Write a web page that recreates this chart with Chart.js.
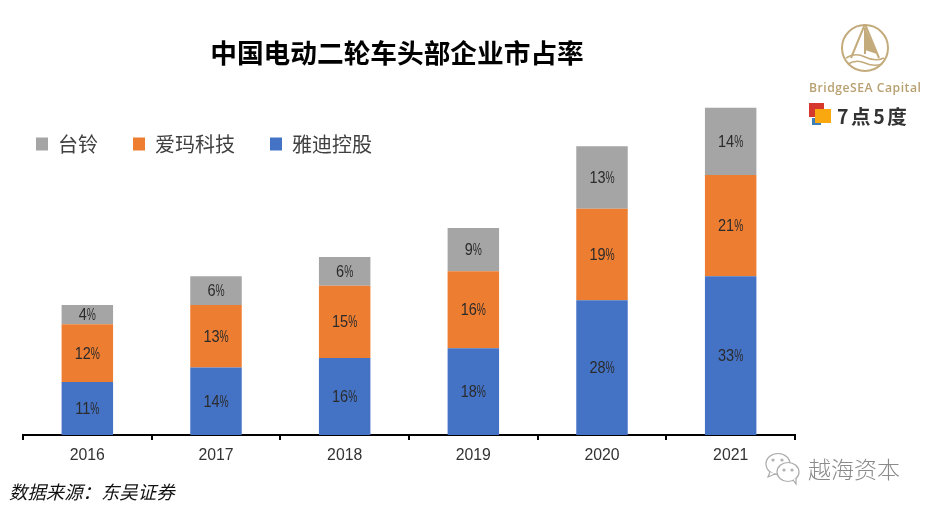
<!DOCTYPE html>
<html>
<head>
<meta charset="utf-8">
<title>中国电动二轮车头部企业市占率</title>
<script src="https://cdn.jsdelivr.net/npm/chart.js@4/dist/chart.umd.min.js"></script>
<style>
  html, body { margin: 0; padding: 0; background: #fff; }
  #wrap { position: relative; width: 930px; height: 510px; overflow: hidden; }
  #wrap canvas { position: absolute; left: 0; top: 0; }
  .abs { position: absolute; white-space: nowrap; font-family: "Noto Sans CJK SC", sans-serif; }
  #source { left: 9px; top: 478px; font-size: 18.4px; line-height: 26px; font-style: italic; color: #111; }
  #brand { left: 809px; top: 80px; font-family: "Open Sans", sans-serif; font-size: 12.2px; line-height: 16px; font-weight: 600; color: #b9a071; letter-spacing: .5px; }
  #seven { left: 837px; top: 102px; font-size: 19.5px; line-height: 28px; font-weight: 700; color: #333; letter-spacing: 2.6px; }
  #mark { left: 808px; top: 452px; font-size: 23px; line-height: 32px; color: #8a8a8a; font-weight: 300; }
</style>
</head>
<body>
<div id="wrap">
  <canvas id="chart" width="930" height="510"></canvas>

  <!-- BridgeSEA logo -->
  <svg class="abs" style="left:838px;top:24px" width="56" height="56" viewBox="0 0 56 56" fill="none" stroke="#c4ab7c" stroke-width="2">
    <circle cx="27" cy="24" r="23"/>
    <path d="M27 0 L13 34 M27 0 L41 34 M27 4 L27 30" />
    <path d="M27 3 L39 30 L27 26 Z" fill="#c4ab7c" stroke="none"/>
    <path d="M8 34 Q17 28 27 33 T46 34 M10 40 Q18 35 27 39 T44 40" stroke-width="1.6"/>
  </svg>
  <div class="abs" id="brand">BridgeSEA Capital</div>

  <!-- 7点5度 logo -->
  <svg class="abs" style="left:808px;top:102px" width="26" height="26">
    <rect x="1" y="1" width="15" height="14" fill="#d6392b"/>
    <rect x="4" y="16" width="9" height="7" fill="#3f7fb8"/>
    <rect x="7" y="7" width="16" height="14" fill="#f9a80f"/>
  </svg>
  <div class="abs" id="seven">7点5度</div>

  <div class="abs" id="source">数据来源：东吴证券</div>

  <!-- watermark -->
  <svg class="abs" style="left:763px;top:450px" width="40" height="36" fill="#fff" stroke="#aaa" stroke-width="1.2">
    <ellipse cx="15" cy="14" rx="12" ry="10.5"/>
    <path d="M7 22 L5 27 L12 24"/>
    <ellipse cx="25" cy="22" rx="11" ry="9.5"/>
    <path d="M30 30 L33 34 L33 28"/>
    <circle cx="10" cy="10" r="1"/><circle cx="19" cy="10" r="1"/>
    <circle cx="21" cy="20" r="1"/><circle cx="29" cy="20" r="1"/>
  </svg>
  <div class="abs" id="mark">越海资本</div>
</div>

<script>
// ── Data ──────────────────────────────────────────────────────────────────────
const years  = ['2016', '2017', '2018', '2019', '2020', '2021'];
const yadea  = [11, 14, 16, 18, 28, 33];
const aima   = [12, 13, 15, 16, 19, 21];
const tailg  = [4, 6, 6, 9, 13, 14];
const yMax   = 70;

const FONT = '"Noto Sans CJK SC", "Noto Sans", sans-serif';
const LATIN = '"Liberation Sans", sans-serif';

// ── Plugins ───────────────────────────────────────────────────────────────────
const barLabels = {
  id: 'barLabels',
  afterDatasetsDraw(chart) {
    const ctx = chart.ctx;
    const numScale = 0.88, signScale = 0.62;
    ctx.save();
    ctx.fillStyle = '#2b2b2b';
    ctx.textBaseline = 'middle';
    ctx.textAlign = 'left';
    ctx.font = '16.5px ' + LATIN;
    chart.data.datasets.forEach((ds, i) => {
      chart.getDatasetMeta(i).data.forEach((bar, j) => {
        const mid = (bar.y + bar.base) / 2 + 1;
        // the digits are squeezed and the percent sign more so in the original
        const num = String(ds.data[j]);
        const w = ctx.measureText(num).width * numScale;
        const s = ctx.measureText('%').width * signScale;
        const x0 = bar.x - (w + s) / 2;
        ctx.save();
        ctx.translate(x0, mid);
        ctx.scale(numScale, 1);
        ctx.fillText(num, 0, 0);
        ctx.restore();
        ctx.save();
        ctx.translate(x0 + w, mid);
        ctx.scale(signScale, 1);
        ctx.fillText('%', 0, 0);
        ctx.restore();
      });
    });
    ctx.restore();
  }
};

// title and legend sit off the plot's centre / corner in the original
const nudge = {
  id: 'nudge',
  afterInit(chart) {
    // legend floats over the plot, it takes no room from the bars
    const fit = chart.legend.fit;
    chart.legend.fit = function () { fit.call(this); this.height = 0; };
  },
  afterLayout(chart) {
    chart.titleBlock.left -= 12;
    chart.titleBlock.right -= 12;
    const lg = chart.legend;
    lg.left = 1;
    lg.top = 99;
    lg.height = 80;
    lg.bottom = 179;
  }
};

// ── Chart ─────────────────────────────────────────────────────────────────────
new Chart(document.getElementById('chart'), {
  type: 'bar',
  data: {
    labels: years,
    datasets: [
      { label: '雅迪控股', data: yadea, backgroundColor: '#4472C4' },
      { label: '爱玛科技', data: aima,  backgroundColor: '#ED7D31' },
      { label: '台铃',     data: tailg, backgroundColor: '#A5A5A5' }
    ]
  },
  options: {
    responsive: false,
    animation: false,
    layout: { padding: { left: 23, right: 135, top: 0, bottom: 0 } },
    datasets: { bar: { categoryPercentage: 1, barPercentage: 0.4 } },
    plugins: {
      tooltip: { enabled: false },
      title: {
        display: true,
        text: '中国电动二轮车头部企业市占率',
        fullSize: false,
        color: '#000',
        font: { family: FONT, size: 26.7, weight: 'bold', lineHeight: 1.2 },
        padding: { top: 37, bottom: 29 }
      },
      legend: {
        position: 'top',
        align: 'start',
        reverse: true,
        labels: {
          boxWidth: 12, boxHeight: 13, padding: 35,
          color: '#404040',
          font: { family: FONT, size: 20 }
        }
      }
    },
    scales: {
      x: {
        stacked: true,
        border: { color: '#000', width: 2 },
        grid: { drawOnChartArea: false, drawTicks: true, tickLength: 5, color: '#000', lineWidth: 2 },
        ticks: { color: '#333', font: { family: LATIN, size: 15.8 }, padding: 6, maxRotation: 0 },
        afterFit(s) { s.height = 75; }
      },
      y: { stacked: true, display: false, min: 0, max: yMax }
    }
  },
  plugins: [barLabels, nudge]
});
</script>
</body>
</html>
